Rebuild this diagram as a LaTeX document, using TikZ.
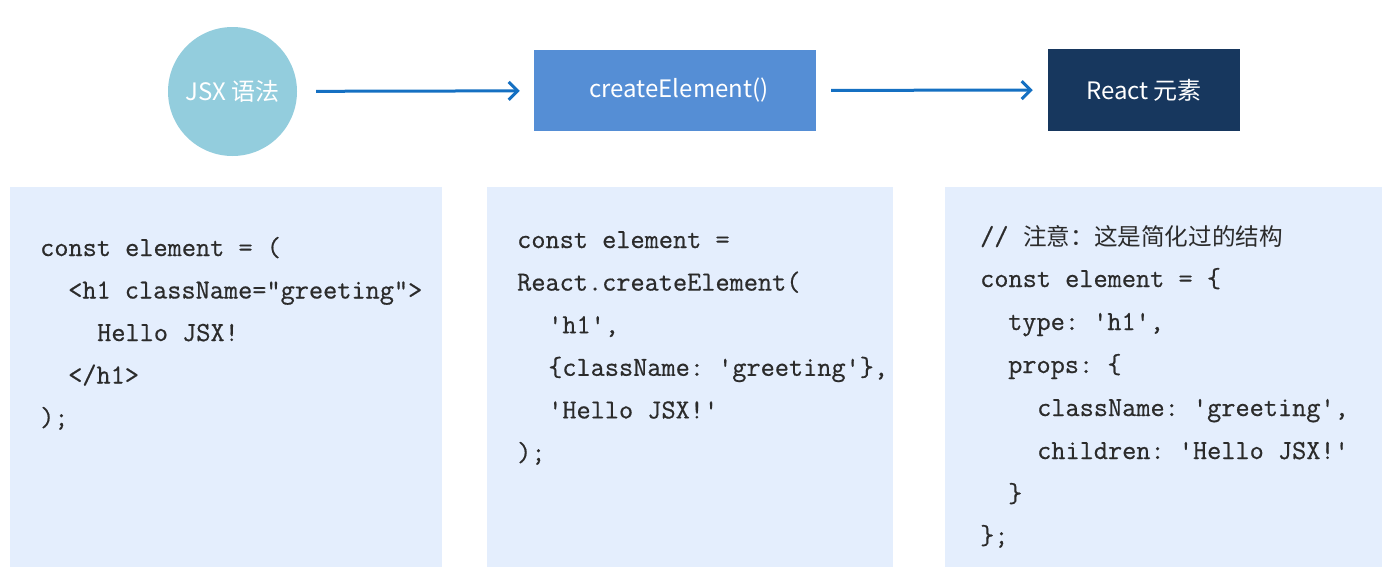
\documentclass[tikz,border=0pt]{standalone}
\usepackage{fontspec}
\setmonofont{Latin Modern Mono}[FakeBold=0.6]
\newfontfamily\cjk{Noto Sans CJK SC}
\usetikzlibrary{arrows.meta}
\definecolor{circfill}{HTML}{93CDDD}
\definecolor{cefill}{HTML}{558ED5}
\definecolor{reactfill}{HTML}{17375E}
\definecolor{arrowblue}{HTML}{1570C2}
\definecolor{codebg}{HTML}{E4EEFD}
\definecolor{codetext}{HTML}{2B2B2B}
\begin{document}
\begin{tikzpicture}[x=1pt,y=-1pt,
  toplabel/.style={text=white,font=\cjk\fontsize{24}{28}\selectfont,inner sep=0pt},
  flowarrow/.style={draw=arrowblue,line width=3pt,-{Straight Barb[length=9pt,width=18pt]}},
  codebox/.style={fill=codebg,draw=none,anchor=north west,minimum height=380pt,inner sep=0pt},
  codeline/.style={anchor=base west,inner sep=0pt,text=codetext,font=\ttfamily\fontsize{27.5}{30}\selectfont},
  cjkcomment/.style={font=\cjk\fontsize{23.6}{28}\selectfont}]
\useasboundingbox (0,0) rectangle (1398,579);
% top row
\node[circle,fill=circfill,minimum size=129pt,toplabel] (jsx) at (232.5,91.5) {JSX 语法};
\node[rectangle,fill=cefill,minimum width=282pt,minimum height=81pt,toplabel] (ce) at (675,90.5) {\hspace*{8pt}createElement()};
\node[rectangle,fill=reactfill,minimum width=192pt,minimum height=82pt,toplabel] (react) at (1144,90) {React 元素};
\draw[flowarrow,shorten <=19pt,shorten >=14pt] (jsx) -- (ce);
\draw[flowarrow,shorten <=15pt,shorten >=15pt] (ce) -- (react);
% code boxes
\node[codebox,minimum width=432pt] (box1) at (10,187) {};
\node[codebox,minimum width=406pt] (box2) at (487,187) {};
\node[codebox,minimum width=437pt] (box3) at (945,187) {};
% box 1
\node[codeline] (a1) at (40,256) {const element = (};
\node[codeline] (a2) at (68,298.5) {<h1 className="greeting">};
\node[codeline] (a3) at (97,341) {Hello JSX!};
\node[codeline] (a4) at (68,383.5) {</h1>};
\node[codeline] (a5) at (40,426) {);};
% box 2
\node[codeline] (b1) at (517,248) {const element =};
\node[codeline] (b2) at (517,290.6) {React.createElement(};
\node[codeline] (b3) at (548,333.2) {'h1',};
\node[codeline] (b4) at (548,375.8) {\{className: 'greeting'\},};
\node[codeline] (b5) at (548,418.4) {'Hello JSX!'};
\node[codeline] (b6) at (517,461) {);};
% box 3
\node[codeline] (c1) at (980,245) {// };
\node[codeline,cjkcomment] (c1b) at (1023,245) {注意：这是简化过的结构};
\node[codeline] (c2) at (980,287) {const element = \{};
\node[codeline] (c3) at (1008,330) {type: 'h1',};
\node[codeline] (c4) at (1008,373) {props: \{};
\node[codeline] (c5) at (1037,416) {className: 'greeting',};
\node[codeline] (c6) at (1037,459) {children: 'Hello JSX!'};
\node[codeline] (c7) at (1008,502) {\}};
\node[codeline] (c8) at (980,544) {\};};
\end{tikzpicture}
\end{document}
